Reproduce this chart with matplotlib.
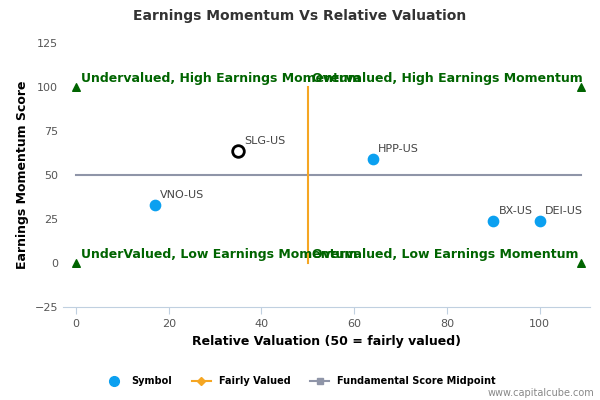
import matplotlib
matplotlib.use("Agg")
import matplotlib.pyplot as plt
from matplotlib.lines import Line2D

symbols = ["VNO-US", "SLG-US", "HPP-US", "BX-US", "DEI-US"]
valuation = [17, 35, 64, 90, 100]
momentum = [33, 64, 59, 24, 24]
highlight = "SLG-US"
corner_x = [0, 109, 0, 109]
corner_y = [100, 100, 0, 0]
xticks = [0, 20, 40, 60, 80, 100]
yticks = [-25, 0, 25, 50, 75, 100, 125]

fig = plt.figure(figsize=(6, 4), dpi=100)
ax = fig.add_axes([0.105, 0.232, 0.878, 0.66])
ax.set_xlim(-2.8, 110.8)
ax.set_ylim(-25, 125)

ax.plot([0, 109], [50, 50], color="#8f95a8", lw=1.5, zorder=2)
ax.plot([50, 50], [0, 100], color="#f5a623", lw=1.5, zorder=2)
ax.scatter(corner_x, corner_y, marker="^", color="#006400", s=30, zorder=3)

for s, x, y in zip(symbols, valuation, momentum):
    if s == highlight:
        ax.scatter([x], [y], s=70, facecolor="white", edgecolor="black", lw=2, zorder=4)
    else:
        ax.scatter([x], [y], s=55, color="#0ba0f0", zorder=4)
    ax.annotate(s, (x, y), xytext=(4, 5), textcoords="offset points", fontsize=8, color="#444444")

g = dict(color="#006400", fontsize=9, fontweight="bold")
ax.text(1, 103, "Undervalued, High Earnings Momentum", **g)
ax.text(51, 103, "Overvalued, High Earnings Momentum", **g)
ax.text(1, 3, "UnderValued, Low Earnings Momentum", **g)
ax.text(51, 3, "Overvalued, Low Earnings Momentum", **g)

ax.set_xticks(xticks)
ax.set_yticks(yticks)
ax.tick_params(labelsize=8, colors="#555555", length=0)
ax.tick_params(axis="x", length=5, color="#c0d0e0")
for sp in ["top", "right", "left"]:
    ax.spines[sp].set_visible(False)
ax.spines["bottom"].set_color("#c0d0e0")
ax.set_xlabel("Relative Valuation (50 = fairly valued)", fontsize=9, fontweight="bold")
ax.set_ylabel("Earnings Momentum Score", fontsize=9, fontweight="bold")
fig.text(0.5, 0.95, "Earnings Momentum Vs Relative Valuation", ha="center", fontsize=10, fontweight="bold", color="#333333")

handles = [
    Line2D([], [], marker="o", ls="", color="#0ba0f0", ms=7),
    Line2D([], [], marker="D", color="#f5a623", ms=4),
    Line2D([], [], marker="s", color="#8f95a8", ms=5),
]
fig.legend(handles, ["Symbol", "Fairly Valued", "Fundamental Score Midpoint"], loc="center",
           bbox_to_anchor=(0.5, 0.047), ncol=3, frameon=False,
           prop={"size": 7, "weight": "bold"})
fig.text(0.99, 0.01, "www.capitalcube.com", ha="right", fontsize=7, color="#888888")
fig.savefig("out.png")
